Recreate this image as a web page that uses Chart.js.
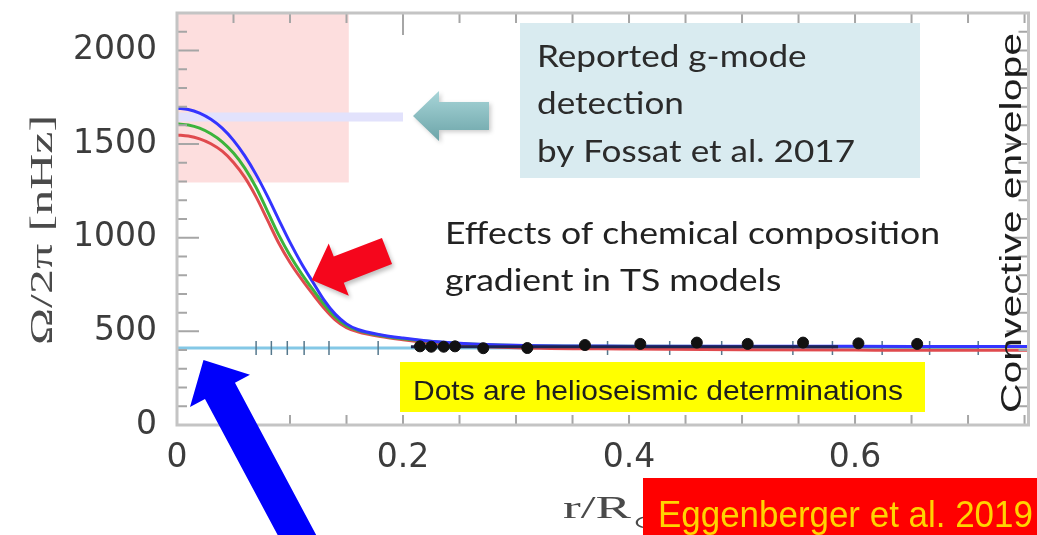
<!DOCTYPE html>
<html>
<head>
<meta charset="utf-8">
<script src="https://cdn.jsdelivr.net/npm/chart.js@4/dist/chart.umd.min.js"></script>
<style>
  html, body { margin: 0; padding: 0; background: #fff; overflow: hidden; }
  #wrap { position: relative; width: 1037px; height: 535px; }
</style>
</head>
<body>
<div id="wrap"><canvas id="c" width="1037" height="535"></canvas></div>
<script>
// Radial grid (r / R_sun) shared by the three TS model rotation profiles
const rGrid = [0, 0.01, 0.02, 0.03, 0.04, 0.05, 0.06, 0.07, 0.08, 0.09, 0.10, 0.11, 0.12,
               0.13, 0.14, 0.15, 0.16, 0.18, 0.20, 0.22, 0.25, 0.30, 0.40, 0.50, 0.60, 0.70, 0.76];
// Omega / 2pi in nHz for each model
const omegaBlue  = [1692, 1685, 1665, 1632, 1585, 1520, 1437, 1337, 1222, 1097, 975, 864, 765,
                    668, 592, 540, 510, 482, 464, 450, 437, 426, 421, 420, 420, 419, 419];
const omegaGreen = [1608, 1602, 1585, 1555, 1512, 1452, 1372, 1268, 1142, 1015, 905, 810, 725,
                    645, 577, 530, 505, 478, 460, 448, 435, 424, 420, 419, 419, 418, 418];
const omegaRed   = [1549, 1543, 1528, 1502, 1462, 1402, 1322, 1218, 1095, 972, 868, 780, 700,
                    625, 562, 520, 498, 472, 455, 441, 426, 413, 406, 402, 400, 399, 399];

// Helioseismic determinations (dots)
const seismicR     = [0.215, 0.225, 0.236, 0.246, 0.271, 0.310, 0.361, 0.410, 0.460, 0.505, 0.554, 0.603, 0.655];
const seismicOmega = [420, 418, 418, 420, 410, 411, 427, 433, 440, 433, 440, 436, 433];

// Mean seismic rate over the radiative zone and its bar positions
const meanR     = [0, 0.709];
const meanOmega = 411;
const meanBarR  = [0.070, 0.0835, 0.0976, 0.1125, 0.1345, 0.178, 0.381, 0.436, 0.482,
                   0.545, 0.580, 0.624, 0.666, 0.709];
// Dark envelope of the models across the dotted range
const envR     = [0.207, 0.585];
const envOmega = 418;

// Reported g-mode detection (Fossat et al. 2017)
const fossatR     = [0, 0.2];
const fossatOmega = 1644;
const fossatBoxR     = [0, 0.152];
const fossatBoxOmega = [1295, 2200];

// Axis ranges and tick labels
const xRange = [0, 0.7535];
const yRange = [0, 2200];
const xTickValues = [0, 0.2, 0.4, 0.6];
const yTickValues = [0, 500, 1000, 1500, 2000];
const xTickLabels = ['0', '0.2', '0.4', '0.6'];
const yTickLabels = ['0', '500', '1000', '1500', '2000'];
const xMinorStep = 0.05, yMinorStep = 100;

const pts = (xs, ys) => xs.map((x, i) => ({ x, y: Array.isArray(ys) ? ys[i] : ys }));

// Text helper: draws text, optionally stretched so that it spans a given width
function drawText(ctx, text, x, y, o) {
  ctx.save();
  ctx.font = `${o.weight || 'normal'} ${o.size}px ${o.family}`;
  const ref = o.fitText || text;
  const sx = o.width ? o.width / ctx.measureText(ref).width : (o.sx || 1);
  ctx.translate(x, y);
  if (o.angle) ctx.rotate(o.angle);
  ctx.scale(sx, 1);
  ctx.fillStyle = o.color;
  ctx.textBaseline = 'alphabetic';
  ctx.fillText(text, 0, 0);
  ctx.restore();
  return sx;
}

// Block arrow from tail centre (x0,y0) to tip (x1,y1)
function blockArrow(ctx, x0, y0, x1, y1, shaftHalf, headHalf, headLen) {
  const dx = x1 - x0, dy = y1 - y0, L = Math.hypot(dx, dy);
  const ux = dx / L, uy = dy / L, nx = -uy, ny = ux;
  const bx = x1 - ux * headLen, by = y1 - uy * headLen;
  ctx.beginPath();
  ctx.moveTo(x0 + nx * shaftHalf, y0 + ny * shaftHalf);
  ctx.lineTo(bx + nx * shaftHalf, by + ny * shaftHalf);
  ctx.lineTo(bx + nx * headHalf, by + ny * headHalf);
  ctx.lineTo(x1, y1);
  ctx.lineTo(bx - nx * headHalf, by - ny * headHalf);
  ctx.lineTo(bx - nx * shaftHalf, by - ny * shaftHalf);
  ctx.lineTo(x0 - nx * shaftHalf, y0 - ny * shaftHalf);
  ctx.closePath();
  ctx.fill();
}

const figurePlugin = {
  id: 'figure',
  beforeDatasetsDraw(chart) {
    const { ctx, scales: { x, y } } = chart;
    ctx.save();
    ctx.fillStyle = '#fddede';
    const l = x.getPixelForValue(fossatBoxR[0]), r = x.getPixelForValue(fossatBoxR[1]);
    const t = y.getPixelForValue(fossatBoxOmega[1]), b = y.getPixelForValue(fossatBoxOmega[0]);
    ctx.fillRect(l, t, r - l, b - t);
    ctx.restore();
  },
  afterDatasetsDraw(chart) {
    const { ctx, chartArea: a, scales: { x, y } } = chart;
    ctx.save();

    // inward ticks on all four sides
    ctx.strokeStyle = '#a6a6a6';
    ctx.lineWidth = 2;
    ctx.beginPath();
    for (let i = 0; i * yMinorStep <= yRange[1] + 1e-6; i++) {
      const v = i * yMinorStep, py = y.getPixelForValue(v);
      const len = v % 500 === 0 ? 22 : 10;
      ctx.moveTo(a.left, py); ctx.lineTo(a.left + len, py);
      ctx.moveTo(a.right, py); ctx.lineTo(a.right - len, py);
    }
    for (let i = 0; i * xMinorStep <= xRange[1] + 1e-6; i++) {
      const px = x.getPixelForValue(i * xMinorStep);
      const major = i % 4 === 0;
      ctx.moveTo(px, a.bottom); ctx.lineTo(px, a.bottom - 10);
      ctx.moveTo(px, a.top); ctx.lineTo(px, a.top + (major ? 22 : 10));
    }
    ctx.stroke();

    // frame
    ctx.strokeStyle = '#c4c4c4';
    ctx.lineWidth = 3;
    ctx.strokeRect(a.left, a.top, a.right - a.left, a.bottom - a.top);

    // axis titles
    drawText(ctx, 'Ω/2π [nHz]', 52, 345, { size: 32, family: '"Liberation Serif", serif', color: '#4a4a4a', width: 230, angle: -Math.PI / 2 });
    const sx = drawText(ctx, 'r/R', 563, 518, { size: 32, family: '"Liberation Serif", serif', color: '#4a4a4a', width: 68 });
    drawText(ctx, '⊙', 633, 528, { size: 18, family: '"DejaVu Sans", sans-serif', color: '#4a4a4a', sx: sx });

    // g-mode callout
    ctx.fillStyle = '#d9ebf0';
    ctx.fillRect(520, 23, 400, 155);
    const calloutFont = { size: 30, family: 'Lato, "Open Sans", sans-serif', color: '#2b2b2b' };
    const cs = drawText(ctx, 'by Fossat et al. 2017', 537, 162, { ...calloutFont, width: 318 });
    drawText(ctx, 'Reported g-mode', 537, 67, { ...calloutFont, sx: cs });
    drawText(ctx, 'detection', 537, 114, { ...calloutFont, sx: cs });

    // teal arrow pointing at the detection level
    ctx.save();
    const tg = ctx.createLinearGradient(0, 90, 0, 140);
    tg.addColorStop(0, '#a9d6d9');
    tg.addColorStop(1, '#6da5a9');
    ctx.fillStyle = tg;
    ctx.shadowColor = 'rgba(0,0,0,0.2)';
    ctx.shadowBlur = 4; ctx.shadowOffsetX = 2; ctx.shadowOffsetY = 2;
    blockArrow(ctx, 489, 116, 413, 116, 14, 25, 26);
    ctx.restore();

    // composition gradient note
    const es = drawText(ctx, 'Effects of chemical composition', 445, 244, { ...calloutFont, color: '#222', width: 495 });
    drawText(ctx, 'gradient in TS models', 445, 291, { ...calloutFont, color: '#222', sx: es });

    // red arrow
    ctx.save();
    ctx.fillStyle = '#f5061c';
    ctx.shadowColor = 'rgba(0,0,0,0.25)';
    ctx.shadowBlur = 4; ctx.shadowOffsetX = 2; ctx.shadowOffsetY = 3;
    blockArrow(ctx, 387, 251, 311.7, 280, 14, 28, 29);
    ctx.restore();

    // yellow note
    ctx.fillStyle = '#ffff00';
    ctx.fillRect(400, 362, 525, 50);
    drawText(ctx, 'Dots are helioseismic determinations', 413, 400, { size: 28, family: '"Liberation Sans", Arial, sans-serif', color: '#1e1e1e', width: 490 });

    // convective envelope label
    drawText(ctx, 'Convective envelope', 1021, 413, { size: 30, family: '"Liberation Sans", Arial, sans-serif', color: '#1e1e1e', width: 380, angle: -Math.PI / 2 });

    // blue arrow
    ctx.fillStyle = '#0000fb';
    blockArrow(ctx, 314, 567, 203.5, 360, 17, 34, 35);

    // reference banner
    ctx.fillStyle = '#ff0000';
    ctx.fillRect(643, 478, 400, 60);
    drawText(ctx, 'Eggenberger et al. 2019', 658, 527, { size: 36, family: '"Liberation Sans", Arial, sans-serif', color: '#ffd400', width: 202, fitText: 'Eggenberger' });

    ctx.restore();
  }
};

const tickFont = { family: '"DejaVu Sans", sans-serif', size: 33 };
const fixedTicks = (values) => (s) => { s.ticks = values.map(v => ({ value: v })); };
const tickText = (values, labels) => (v) => {
  const i = values.findIndex(t => Math.abs(t - v) < 1e-9);
  return i >= 0 ? labels[i] : '';
};

new Chart(document.getElementById('c'), {
  type: 'scatter',
  data: {
    datasets: [
      { label: 'helioseismic', data: pts(seismicR, seismicOmega), backgroundColor: '#111', borderColor: '#111',
        pointRadius: 5.5, showLine: false, order: 1 },
      { label: 'envelope', data: pts(envR, envOmega), showLine: true, borderColor: '#1c2552', borderWidth: 3,
        pointRadius: 0, order: 2 },
      { label: 'TS model (blue)', data: pts(rGrid, omegaBlue), showLine: true, borderColor: '#3434ff', borderWidth: 3,
        pointRadius: 0, cubicInterpolationMode: 'monotone', order: 3 },
      { label: 'TS model (green)', data: pts(rGrid, omegaGreen), showLine: true, borderColor: '#3cb43c', borderWidth: 3,
        pointRadius: 0, cubicInterpolationMode: 'monotone', order: 4 },
      { label: 'TS model (red)', data: pts(rGrid, omegaRed), showLine: true, borderColor: '#e04a4e', borderWidth: 3,
        pointRadius: 0, cubicInterpolationMode: 'monotone', order: 5 },
      { label: 'bars', data: pts(meanBarR, meanOmega), showLine: false, pointStyle: 'line', rotation: 90,
        pointRadius: 7, borderColor: '#55788d', borderWidth: 1.5, order: 6 },
      { label: 'mean', data: pts(meanR, meanOmega), showLine: true, borderColor: '#84c8e6', borderWidth: 3,
        pointRadius: 0, order: 7 },
      { label: 'Fossat 2017', data: pts(fossatR, fossatOmega), showLine: true, borderColor: '#e2e2fc', borderWidth: 9,
        pointRadius: 0, order: 8 }
    ]
  },
  options: {
    responsive: false,
    animation: false,
    devicePixelRatio: 1,
    events: [],
    layout: { padding: { top: 13, right: 3, left: 0, bottom: 0 } },
    plugins: { legend: { display: false }, tooltip: { enabled: false } },
    scales: {
      x: {
        type: 'linear', min: xRange[0], max: xRange[1],
        grid: { display: false, drawTicks: false }, border: { display: false },
        afterBuildTicks: fixedTicks(xTickValues),
        ticks: { autoSkip: false, maxRotation: 0, font: tickFont, color: '#3c3c3c', padding: 14,
                 callback: tickText(xTickValues, xTickLabels) },
        afterFit: s => { s.height = 110; s.paddingLeft = 0; s.paddingRight = 0; }
      },
      y: {
        type: 'linear', min: yRange[0], max: yRange[1],
        grid: { display: false, drawTicks: false }, border: { display: false },
        afterBuildTicks: fixedTicks(yTickValues),
        ticks: { autoSkip: false, font: tickFont, color: '#3c3c3c', padding: 20,
                 callback: tickText(yTickValues, yTickLabels) },
        afterFit: s => { s.width = 177; s.paddingTop = 0; s.paddingBottom = 0; }
      }
    }
  },
  plugins: [figurePlugin]
});
</script>
</body>
</html>
